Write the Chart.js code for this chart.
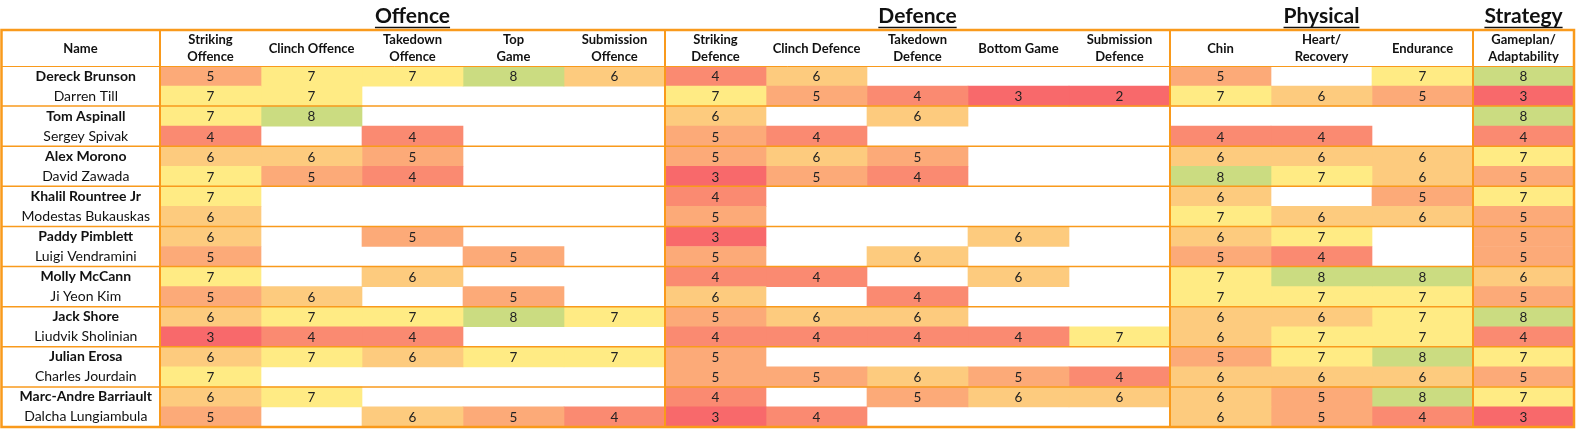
<!DOCTYPE html>
<html>
<head>
<meta charset="utf-8">
<script src="https://cdn.jsdelivr.net/npm/chart.js@4.4.0/dist/chart.umd.min.js"></script>
<style>
  html, body { margin: 0; padding: 0; background: #fff; overflow: hidden; }
  canvas { display: block; }
</style>
</head>
<body>
<canvas id="heat" width="1576" height="430"></canvas>
<script>
// fighters, in pairs (first of each pair is shown bold)
const fighters = [
  'Dereck Brunson', 'Darren Till',
  'Tom Aspinall', 'Sergey Spivak',
  'Alex Morono', 'David Zawada',
  'Khalil Rountree Jr', 'Modestas Bukauskas',
  'Paddy Pimblett', 'Luigi Vendramini',
  'Molly McCann', 'Ji Yeon Kim',
  'Jack Shore', 'Liudvik Sholinian',
  'Julian Erosa', 'Charles Jourdain',
  'Marc-Andre Barriault', 'Dalcha Lungiambula'
];

const groupNames = ['Offence', 'Defence', 'Physical', 'Strategy'];
const offenceCols = [['Striking', 'Offence'], 'Clinch Offence', ['Takedown', 'Offence'], ['Top', 'Game'], ['Submission', 'Offence']];
const defenceCols = [['Striking', 'Defence'], 'Clinch Defence', ['Takedown', 'Defence'], 'Bottom Game', ['Submission', 'Defence']];
const physicalCols = ['Chin', ['Heart/', 'Recovery'], 'Endurance'];
const strategyCols = [['Gameplan/', 'Adaptability']];

const _ = null;
const offenceScores = [
  [5, 7, 7, 8, 6], [7, 7, _, _, _],
  [7, 8, _, _, _], [4, _, 4, _, _],
  [6, 6, 5, _, _], [7, 5, 4, _, _],
  [7, _, _, _, _], [6, _, _, _, _],
  [6, _, 5, _, _], [5, _, _, 5, _],
  [7, _, 6, _, _], [5, 6, _, 5, _],
  [6, 7, 7, 8, 7], [3, 4, 4, _, _],
  [6, 7, 6, 7, 7], [7, _, _, _, _],
  [6, 7, _, _, _], [5, _, 6, 5, 4]
];
const defenceScores = [
  [4, 6, _, _, _], [7, 5, 4, 3, 2],
  [6, _, 6, _, _], [5, 4, _, _, _],
  [5, 6, 5, _, _], [3, 5, 4, _, _],
  [4, _, _, _, _], [5, _, _, _, _],
  [3, _, _, 6, _], [5, _, 6, _, _],
  [4, 4, _, 6, _], [6, _, 4, _, _],
  [5, 6, 6, _, _], [4, 4, 4, 4, 7],
  [5, _, _, _, _], [5, 5, 6, 5, 4],
  [4, _, 5, 6, 6], [3, 4, _, _, _]
];
const physicalScores = [
  [5, _, 7], [7, 6, 5],
  [_, _, _], [4, 4, _],
  [6, 6, 6], [8, 7, 6],
  [6, _, 5], [7, 6, 6],
  [6, 7, _], [5, 4, _],
  [7, 8, 8], [7, 7, 7],
  [6, 6, 7], [6, 7, 7],
  [5, 7, 8], [6, 6, 6],
  [6, 5, 8], [6, 5, 4]
];
const strategyScores = [8, 3, 8, 4, 7, 5, 7, 5, 5, 5, 6, 5, 8, 4, 7, 5, 7, 3];

const columns = [...offenceCols, ...defenceCols, ...physicalCols, ...strategyCols];
const groupSizes = [offenceCols.length, defenceCols.length, physicalCols.length, strategyCols.length];
const scores = fighters.map((f, i) => [...offenceScores[i], ...defenceScores[i], ...physicalScores[i], strategyScores[i]]);

const ORANGE = '#F99A1C';
const FONT = 'Lato, "Open Sans", sans-serif';

// excel style red - yellow - green scale (3 .. 7 .. 10)
function scaleColor(v) {
  const red = [248, 105, 107], yel = [255, 235, 132], grn = [99, 190, 123];
  let a, b, t;
  if (v <= 7) { a = red; b = yel; t = Math.max(0, (v - 3) / 4); }
  else { a = yel; b = grn; t = Math.min(1, (v - 7) / 3); }
  const c = a.map((x, k) => Math.round(x + (b[k] - x) * t));
  return `rgb(${c[0]},${c[1]},${c[2]})`;
}

const datasets = columns.map((col, c) => ({
  label: Array.isArray(col) ? col.join(' ') : col,
  data: scores.map(row => row[c] == null ? null : [c, c + 1]),
  backgroundColor: ctx => {
    const v = scores[ctx.dataIndex] ? scores[ctx.dataIndex][c] : null;
    return v == null ? 'rgba(0,0,0,0)' : scaleColor(v);
  },
  grouped: false,
  barPercentage: 1,
  categoryPercentage: 1,
  borderWidth: 0,
  borderSkipped: false
}));

const tablePlugin = {
  id: 'tablePlugin',
  afterDatasetsDraw(chart) {
    const { ctx, chartArea, scales } = chart;
    const x = scales.x, y = scales.y, x2 = scales.x2;
    const rowH = (chartArea.bottom - chartArea.top) / fighters.length;
    const headMid = (30 + chartArea.top) / 2 + 0.5;
    ctx.save();

    // cell numbers
    ctx.fillStyle = '#222';
    ctx.font = '13.5px ' + FONT;
    ctx.textAlign = 'center';
    ctx.textBaseline = 'middle';
    chart.data.datasets.forEach((ds, c) => {
      chart.getDatasetMeta(c).data.forEach((el, i) => {
        const v = scores[i][c];
        if (v == null) return;
        const p = el.getCenterPoint();
        ctx.fillText(String(v), p.x, p.y + 1);
      });
    });

    // header row
    ctx.fillStyle = '#111';
    ctx.font = 'bold 13px ' + FONT;
    ctx.fillText('Name', (1 + chartArea.left) / 2, headMid);
    columns.forEach((col, i) => {
      const lines = Array.isArray(col) ? col : [col];
      const cx = x2.getPixelForTick(i);
      lines.forEach((ln, k) => {
        ctx.fillText(ln, cx, headMid + (k - (lines.length - 1) / 2) * 17);
      });
    });

    // group titles
    let start = 0;
    ctx.font = 'bold 21px ' + FONT;
    ctx.lineWidth = 1.5;
    ctx.strokeStyle = '#111';
    groupNames.forEach((g, k) => {
      const x0 = x.getPixelForValue(start), x1 = x.getPixelForValue(start + groupSizes[k]);
      const cx = (x0 + x1) / 2;
      ctx.fillText(g, cx, 16);
      const w = ctx.measureText(g).width;
      ctx.beginPath();
      ctx.moveTo(cx - w / 2, 27.5);
      ctx.lineTo(cx + w / 2, 27.5);
      ctx.stroke();
      start += groupSizes[k];
    });

    // table lines
    const left = 1, right = chartArea.right, top = 30, bottom = chartArea.bottom;
    ctx.strokeStyle = ORANGE;
    ctx.lineWidth = 1;
    ctx.beginPath();
    ctx.moveTo(left, chartArea.top + 0.5);
    ctx.lineTo(right, chartArea.top + 0.5);
    ctx.stroke();

    ctx.lineWidth = 1.5;
    for (let i = 1; i < fighters.length - 1; i += 2) {
      const yy = y.getPixelForValue(i) + rowH / 2;
      ctx.beginPath();
      ctx.moveTo(left, yy);
      ctx.lineTo(right, yy);
      ctx.stroke();
    }

    ctx.lineWidth = 2;
    const vlines = [chartArea.left];
    let acc = 0;
    groupSizes.slice(0, -1).forEach(n => { acc += n; vlines.push(x.getPixelForValue(acc)); });
    vlines.forEach(xx => {
      ctx.beginPath();
      ctx.moveTo(xx, top);
      ctx.lineTo(xx, bottom);
      ctx.stroke();
    });

    ctx.lineWidth = 2.5;
    ctx.strokeRect(left + 0.5, top, right - left - 0.5, bottom - top);
    ctx.restore();
  }
};

new Chart(document.getElementById('heat'), {
  type: 'bar',
  data: { labels: fighters, datasets },
  options: {
    indexAxis: 'y',
    responsive: false,
    animation: false,
    layout: { padding: { top: 30, left: 1, right: 2, bottom: 3 } },
    plugins: { legend: { display: false }, tooltip: { enabled: false }, title: { display: false } },
    scales: {
      x: { type: 'linear', min: 0, max: columns.length, display: false },
      x2: {
        type: 'category',
        labels: columns,
        position: 'top',
        offset: true,
        grid: { display: false },
        border: { display: false },
        ticks: { display: false },
        afterFit: s => { s.height = 36; }
      },
      y: {
        type: 'category',
        offset: true,
        grid: { display: false },
        border: { display: false },
        ticks: {
          autoSkip: false,
          crossAlign: 'center',
          padding: 0,
          color: '#111',
          // small lineHeight keeps the axis from reserving extra space under the last row
          font: ctx => ({ family: FONT, size: 14, lineHeight: 0.4, weight: ctx.index % 2 === 0 ? 'bold' : 'normal' })
        },
        afterFit: s => { s.width = 159; }
      }
    }
  },
  plugins: [tablePlugin]
});
</script>
</body>
</html>
